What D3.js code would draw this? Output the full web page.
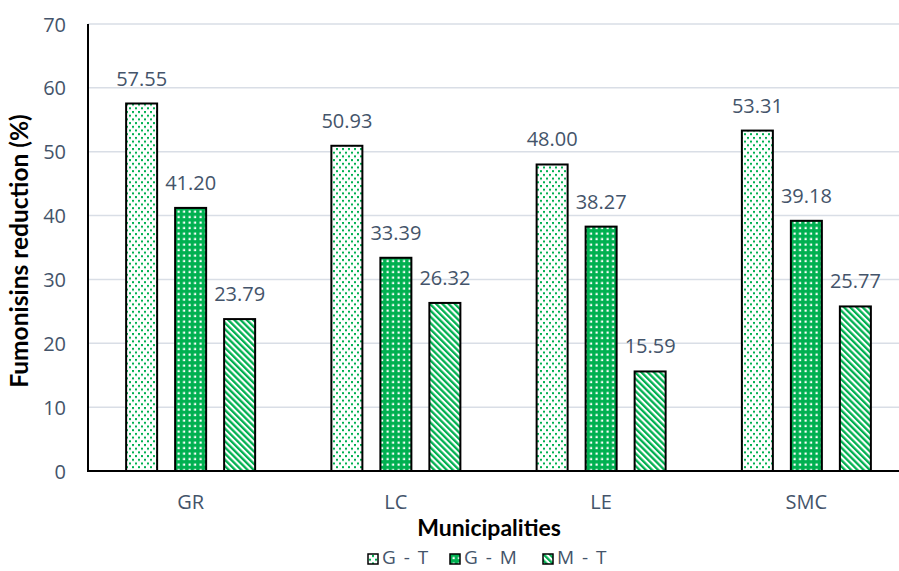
<!DOCTYPE html>
<html><head><meta charset="utf-8">
<script src="https://cdn.jsdelivr.net/npm/d3@7"></script>
<style>body{margin:0;background:#fff}svg{display:block}text{font-family:"Open Sans",Lato,sans-serif}.b{font-family:Lato,"Open Sans",sans-serif;font-weight:bold}</style>
</head><body>
<svg id="c" width="899" height="571"></svg>
<script>
const categories = ["GR","LC","LE","SMC"];
const seriesNames = ["G - T","G - M","M - T"];
const gt = [57.55, 50.93, 48.00, 53.31];
const gm = [41.20, 33.39, 38.27, 39.18];
const mt = [23.79, 26.32, 15.59, 25.77];
const yTicks = [0,10,20,30,40,50,60,70];
const series = [gt, gm, mt];

const green = "#00B050", txt = "#44546A";
const FS = "20px";
const svg = d3.select("#c");
const defs = svg.append("defs");
// G - T : white with green dots
let p = defs.append("pattern").attr("id","pGT").attr("patternUnits","userSpaceOnUse").attr("width",6).attr("height",7.4);
p.append("rect").attr("width",6).attr("height",7.4).attr("fill","#fff");
p.append("rect").attr("x",0).attr("y",0).attr("width",2).attr("height",2).attr("fill",green);
p.append("rect").attr("x",3).attr("y",3.7).attr("width",2).attr("height",2).attr("fill",green);
// G - M : green with white squares
p = defs.append("pattern").attr("id","pGM").attr("patternUnits","userSpaceOnUse").attr("width",5.5).attr("height",5.5);
p.append("rect").attr("width",5.5).attr("height",5.5).attr("fill",green);
p.append("rect").attr("x",1.5).attr("y",1.5).attr("width",2.2).attr("height",2.2).attr("fill","#fff");
// M - T : diagonal stripes
p = defs.append("pattern").attr("id","pMT").attr("patternUnits","userSpaceOnUse").attr("width",4.4).attr("height",10).attr("patternTransform","rotate(-45)");
p.append("rect").attr("width",4.4).attr("height",10).attr("fill","#fff");
p.append("rect").attr("width",2.3).attr("height",10).attr("fill",green);
const fills = ["url(#pGT)","url(#pGM)","url(#pMT)"];

const x0 = 88, x1 = 909, yTop = 24, yBot = 471;
const x = d3.scaleBand().domain(categories).range([x0,x1]).paddingInner(0).paddingOuter(0);
const y = d3.scaleLinear().domain([0,70]).range([yBot,yTop]);
const barW = 31, step = 49;

// gridlines
svg.append("g").selectAll("line").data(yTicks.filter(d=>d>0)).join("line")
  .attr("x1",x0).attr("x2",899).attr("y1",d=>y(d)).attr("y2",d=>y(d))
  .attr("stroke","#D9DEE6").attr("stroke-width",1.5);

// y axis
const ya = svg.append("g").attr("transform",`translate(${x0},0)`)
  .call(d3.axisLeft(y).tickValues(yTicks).tickSize(0).tickPadding(22));
ya.select(".domain").remove();
ya.selectAll("text").attr("fill",txt).style("font-size",FS).attr("dy","0.35em");

// bars
series.forEach((s,si)=>{
  const g = svg.append("g");
  g.selectAll("rect").data(s).join("rect")
    .attr("x",(d,i)=>x(categories[i])+x.bandwidth()/2 + (si-1)*step - barW/2)
    .attr("y",d=>y(d)).attr("width",barW).attr("height",d=>yBot-y(d))
    .attr("fill",fills[si]).attr("stroke","#000").attr("stroke-width",2);
  g.selectAll("text").data(s).join("text")
    .attr("x",(d,i)=>x(categories[i])+x.bandwidth()/2 + (si-1)*step)
    .attr("y",d=>y(d)-18).attr("text-anchor","middle")
    .attr("fill",txt).style("font-size",FS).text(d=>d.toFixed(2));
});

// axis lines
svg.append("line").attr("x1",x0).attr("x2",x0).attr("y1",yTop).attr("y2",yBot+1).attr("stroke","#000").attr("stroke-width",2);
svg.append("line").attr("x1",x0-1).attr("x2",899).attr("y1",yBot).attr("y2",yBot).attr("stroke","#000").attr("stroke-width",2.2);

// x axis labels
const xa = svg.append("g").attr("transform",`translate(0,${yBot})`)
  .call(d3.axisBottom(x).tickSize(0).tickPadding(24));
xa.select(".domain").remove();
xa.selectAll("text").attr("fill",txt).style("font-size",FS);

// titles
svg.append("text").attr("class","b").attr("x",489).attr("y",536).attr("text-anchor","middle")
  .style("font-size","23px").attr("fill","#000").text("Municipalities");
svg.append("text").attr("class","b").attr("transform",`translate(28,251) rotate(-90)`).attr("text-anchor","middle")
  .style("font-size","24.5px").attr("fill","#000").text("Fumonisins reduction (%)");

// legend
const legX = [368, 450, 543];
const lg = svg.append("g");
seriesNames.forEach((n,i)=>{
  lg.append("rect").attr("x",legX[i]).attr("y",554).attr("width",10).attr("height",10)
    .attr("fill",fills[i]).attr("stroke","#000").attr("stroke-width",1.5);
  lg.append("text").attr("x",legX[i]+14).attr("y",564).attr("fill",txt)
    .style("font-size","19px").style("word-spacing","3px").text(n);
});
</script>
</body></html>
